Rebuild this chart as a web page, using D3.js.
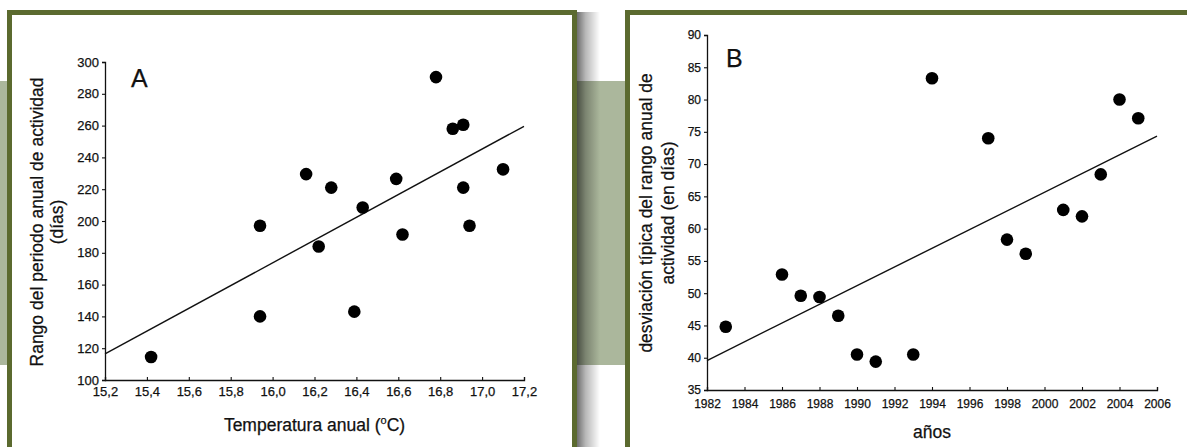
<!DOCTYPE html>
<html>
<head>
<meta charset="utf-8">
<script src="https://cdn.jsdelivr.net/npm/d3@7"></script>
<style>
  html, body { margin: 0; padding: 0; background: #fff; }
  svg { display: block; }
  text { font-family: "Liberation Sans", Arial, sans-serif; fill: #111; stroke: #111; stroke-width: 0.25px; }
</style>
</head>
<body>
<svg id="chart" width="1187" height="447"></svg>
<script>
// ---------- DATA ----------
// Panel A: annual temperature (°C) vs. range of annual activity period (days)
const tempA   = [15.42, 15.94, 15.94, 16.16, 16.22, 16.28, 16.39, 16.43, 16.59, 16.62, 16.78, 16.86, 16.91, 16.91, 16.94, 17.10];
const rangeA  = [114.5, 197, 140, 229.5, 184, 221, 143, 208.5, 226.5, 191.5, 290.5, 258, 260.5, 221, 197, 232.5];
const xTicksA = [15.2, 15.4, 15.6, 15.8, 16.0, 16.2, 16.4, 16.6, 16.8, 17.0, 17.2];
const yTicksA = [100, 120, 140, 160, 180, 200, 220, 240, 260, 280, 300];

// Panel B: year vs. standard deviation of annual activity range (days)
const yearsB  = [1983, 1986, 1987, 1988, 1989, 1990, 1991, 1993, 1994, 1997, 1998, 1999, 2001, 2002, 2003, 2004, 2005];
const sdB     = [44.8, 52.9, 49.6, 49.4, 46.5, 40.5, 39.4, 40.5, 83.3, 74.0, 58.3, 56.1, 62.9, 61.9, 68.4, 80.0, 77.1];
const xTicksB = [1982, 1984, 1986, 1988, 1990, 1992, 1994, 1996, 1998, 2000, 2002, 2004, 2006];
const yTicksB = [35, 40, 45, 50, 55, 60, 65, 70, 75, 80, 85, 90];

// ---------- HELPERS ----------
function fit(xs, ys) {
  const n = xs.length;
  const mx = d3.mean(xs), my = d3.mean(ys);
  let sxy = 0, sxx = 0;
  for (let i = 0; i < n; i++) { sxy += (xs[i] - mx) * (ys[i] - my); sxx += (xs[i] - mx) ** 2; }
  const b = sxy / sxx;
  return x => my + b * (x - mx);
}

const svg = d3.select("#chart");
const defs = svg.append("defs");
const grad = defs.append("linearGradient").attr("id", "shadow").attr("x1", 0).attr("x2", 1).attr("y1", 0).attr("y2", 0);
grad.append("stop").attr("offset", "0%").attr("stop-color", "#000").attr("stop-opacity", 0.6);
grad.append("stop").attr("offset", "40%").attr("stop-color", "#000").attr("stop-opacity", 0.28);
grad.append("stop").attr("offset", "100%").attr("stop-color", "#000").attr("stop-opacity", 0);

// background band
svg.append("rect").attr("x", 0).attr("y", 81).attr("width", 1187).attr("height", 284).attr("fill", "#abb79c");

// shadow to the right of panel A
svg.append("rect").attr("x", 576).attr("y", 12).attr("width", 24).attr("height", 440).attr("fill", "url(#shadow)");

const frameColor = "#5b6a2f";
// panel frames
svg.append("rect").attr("x", 9.5).attr("y", 12.5).attr("width", 565).attr("height", 460)
  .attr("fill", "#fff").attr("stroke", frameColor).attr("stroke-width", 5);
svg.append("rect").attr("x", 627.5).attr("y", 12.5).attr("width", 620).attr("height", 460)
  .attr("fill", "#fff").attr("stroke", frameColor).attr("stroke-width", 5);

function panel(cfg) {
  const g = svg.append("g");
  const x = d3.scaleLinear().domain(cfg.xDomain).range(cfg.xRange);
  const y = d3.scaleLinear().domain(cfg.yDomain).range(cfg.yRange);

  // y axis
  const ya = g.append("g").attr("transform", `translate(${cfg.xRange[0]},0)`)
    .call(d3.axisLeft(y).tickValues(cfg.yTicks).tickSize(3).tickPadding(3).tickFormat(cfg.yFmt));
  // x axis (ticks pointing up)
  const xa = g.append("g").attr("transform", `translate(0,${cfg.yRange[0]})`)
    .call(d3.axisBottom(x).tickValues(cfg.xTicks).tickSize(-3).tickPadding(cfg.xPad).tickFormat(cfg.xFmt));
  [ya, xa].forEach(a => {
    a.select(".domain").attr("stroke", "#111").attr("stroke-width", 1.3);
    a.selectAll(".tick line").attr("stroke", "#111").attr("stroke-width", 1.1);
    a.selectAll(".tick text").attr("fill", "#111").style("font-size", cfg.tickSize + "px")
      .style("font-family", '"Liberation Sans", Arial, sans-serif');
  });
  xa.selectAll(".tick text").attr("dy", "0.71em");

  // regression line
  const f = fit(cfg.xs, cfg.ys);
  g.append("line")
    .attr("x1", x(cfg.xDomain[0])).attr("y1", y(f(cfg.xDomain[0])))
    .attr("x2", x(cfg.xDomain[1])).attr("y2", y(f(cfg.xDomain[1])))
    .attr("stroke", "#111").attr("stroke-width", 1.4);

  // points
  g.selectAll("circle").data(cfg.xs.map((d, i) => [d, cfg.ys[i]])).join("circle")
    .attr("cx", d => x(d[0])).attr("cy", d => y(d[1])).attr("r", 6.3).attr("fill", "#000");

  // panel letter
  g.append("text").attr("x", cfg.letterPos[0]).attr("y", cfg.letterPos[1])
    .style("font-size", "25px").text(cfg.letter);

  // x title
  const xt = g.append("text").attr("x", (cfg.xRange[0] + cfg.xRange[1]) / 2).attr("y", cfg.xTitleY)
    .attr("text-anchor", "middle").style("font-size", cfg.titleSize + "px");
  cfg.xTitle(xt);

  // y title (two lines, rotated)
  const yt = g.append("text").attr("transform", `translate(${cfg.yTitlePos[0]},${cfg.yTitlePos[1]}) rotate(-90)`)
    .attr("text-anchor", "middle").style("font-size", cfg.titleSize + "px");
  cfg.yTitle.forEach((t, i) => yt.append("tspan").attr("x", 0).attr("dy", i === 0 ? 0 : cfg.lineGap).text(t));
}

const comma1 = d => d3.format(".1f")(d).replace(".", ",");

panel({
  xs: tempA, ys: rangeA,
  xDomain: [15.2, 17.2], yDomain: [100, 300],
  xRange: [105, 524], yRange: [380, 62],
  xTicks: xTicksA, yTicks: yTicksA,
  xFmt: comma1, yFmt: d3.format("d"),
  tickSize: 13, titleSize: 17.5, xPad: 7,
  letter: "A", letterPos: [131, 87],
  xTitleY: 431,
  xTitle: t => {
    t.append("tspan").text("Temperatura anual (");
    t.append("tspan").attr("dy", -7).style("font-size", "11px").text("o");
    t.append("tspan").attr("dy", 7).text("C)");
  },
  yTitle: ["Rango del periodo anual de actividad", "(días)"],
  yTitlePos: [43, 222], lineGap: 20
});

panel({
  xs: yearsB, ys: sdB,
  xDomain: [1982, 2006], yDomain: [35, 90],
  xRange: [707, 1157], yRange: [390, 35],
  xTicks: xTicksB, yTicks: yTicksB,
  xFmt: d3.format("d"), yFmt: d3.format("d"),
  tickSize: 12, titleSize: 17.5, xPad: 9,
  letter: "B", letterPos: [726, 67],
  xTitleY: 438,
  xTitle: t => t.text("años"),
  yTitle: ["desviación típica del rango anual de", "actividad (en días)"],
  yTitlePos: [652, 213], lineGap: 22
});
</script>
</body>
</html>
